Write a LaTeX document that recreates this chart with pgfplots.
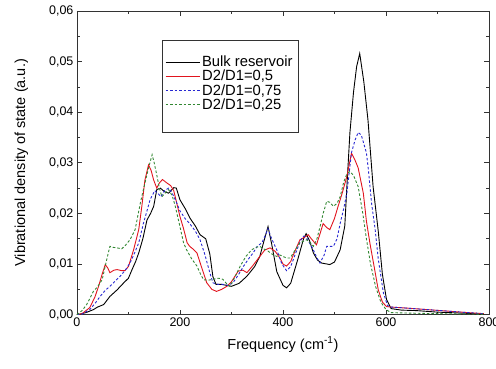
\documentclass[border=0pt]{standalone}
\usepackage{pgfplots}
\pgfplotsset{compat=1.18}
\usepackage{fontspec}
\setmainfont{Liberation Sans}
\definecolor{cred}{RGB}{225,20,30}
\definecolor{cblue}{RGB}{40,40,210}
\definecolor{cgreen}{RGB}{50,135,50}
\begin{document}
\begin{tikzpicture}
\begin{axis}[
  scale only axis,
  width=412.5pt, height=304pt,
  xmin=0, xmax=800, ymin=0, ymax=0.06,
  xtick={0,200,400,600,800},
  ytick={0,0.01,0.02,0.03,0.04,0.05,0.06},
  minor x tick num=1, minor y tick num=1,
  tick align=inside,
  major tick length=5pt, minor tick length=3pt,
  axis line style={black!80, line width=0.8pt},
  every tick/.style={black!80, line width=0.7pt},
  scaled y ticks=false,
  /pgf/number format/assume math mode=true,
  yticklabel style={/pgf/number format/.cd, use comma, fixed, fixed zerofill, precision=2},
  xticklabel style={/pgf/number format/.cd, fixed},
  tick label style={font=\fontsize{12.5}{14}\selectfont},
  label style={font=\fontsize{14.5}{16}\selectfont},
  xlabel={Frequency (cm\textsuperscript{-1})},
  ylabel={Vibrational density of state (a.u.)},
  xlabel style={yshift=-3pt},
  ylabel style={yshift=14pt},
  legend style={at={(0.209,0.866)}, anchor=north west, draw=none, fill=none,
    font=\fontsize{14.8}{16}\selectfont, inner sep=2pt, row sep=-2pt},
  legend cell align=left,
  legend image code/.code={\draw[#1, line width=0.9pt] (0pt,0pt) -- (34pt,0pt);},
]
\draw[black!80, line width=0.8pt] (axis description cs:0.2085,0.9046) rectangle (axis description cs:0.538,0.599);
\addplot[black, line width=0.9pt] coordinates {
(0,0) (10,0.0002) (20,0.0005) (32,0.0010) (40,0.0015) (52,0.0020) (64,0.0036) (78,0.0049) (91,0.0063)
(100,0.0072) (107,0.0089) (114,0.0105) (120,0.0122) (128,0.0150) (136,0.0187) (143,0.0200) (149,0.0214) (155,0.0247)
(162,0.0250) (170,0.0243) (178,0.0240) (188,0.0251) (193,0.0250) (200,0.0227) (210,0.0210)
(220,0.0190) (230,0.0175) (239,0.0158) (250,0.0150) (258,0.0120) (264,0.0075) (270,0.0060)
(280,0.0060) (290,0.0058) (300,0.0056) (315,0.0062) (330,0.0076) (345,0.0095) (355,0.0115)
(363,0.0145) (371,0.0174) (378,0.0140) (388,0.0085) (400,0.0058) (407,0.0053) (415,0.0062)
(429,0.0110) (440,0.0150) (445,0.0160) (452,0.0145) (459,0.0122) (467,0.0108) (475,0.0102)
(491,0.0099) (500,0.0104) (511,0.0128) (520,0.0175) (525,0.0270) (530,0.0360) (537,0.0440)
(543,0.0490) (549,0.0516) (557,0.0460) (565,0.0385) (575,0.0253) (585,0.0165) (593,0.0080)
(601,0.0030) (610,0.0012) (630,0.0009) (660,0.0008) (700,0.0005) (750,0.0003) (790,0.0001)
};
\addlegendentry{Bulk reservoir}
\addplot[cred, line width=0.9pt] coordinates {
(0,0) (10,0.0002) (25,0.0014) (35,0.0035) (42,0.0056) (49,0.0080) (55,0.0099) (60,0.0092) (64,0.0083)
(72,0.0088) (78,0.0089) (87,0.0087) (93,0.0087) (100,0.0095) (110,0.0128) (120,0.0168) (126,0.0214)
(132,0.0266) (139,0.0296) (144,0.0285) (149,0.0266) (155,0.0250) (160,0.0260) (166,0.0267)
(175,0.0260) (182,0.0255) (188,0.0245) (200,0.0194) (207,0.0170) (214,0.0142) (219,0.0135)
(225,0.0130) (233,0.0122) (240,0.0100) (252,0.0063) (262,0.0050) (271,0.0046) (281,0.0050)
(291,0.0056) (300,0.0065) (313,0.0086) (322,0.0088) (330,0.0083) (340,0.0095) (355,0.0115)
(365,0.0128) (375,0.0132) (385,0.0125) (394,0.0112) (400,0.0100) (407,0.0096) (415,0.0105)
(420,0.0118) (433,0.0148) (445,0.0155) (449,0.0158) (455,0.0150) (465,0.0138) (472,0.0160)
(478,0.0180) (485,0.0172) (491,0.0168) (500,0.0190) (507,0.0214) (515,0.0240) (524,0.0273)
(533,0.0319) (540,0.0305) (546,0.0290) (556,0.0240) (562,0.0185) (569,0.0140) (577,0.0095)
(585,0.0049) (593,0.0025) (601,0.0016) (610,0.0015) (640,0.0013) (680,0.0010) (720,0.0007)
(760,0.0004) (790,0.0002)
};
\addlegendentry{D2/D1=0,5}
\addplot[cblue, line width=0.9pt, dash pattern=on 2.5pt off 2pt] coordinates {
(0,0) (10,0.0001) (25,0.0010) (35,0.0022) (45,0.0036) (55,0.0048) (64,0.0056) (74,0.0066) (84,0.0076)
(94,0.0088) (103,0.0102) (112,0.0122) (120,0.0142) (129,0.0180) (136,0.0205) (142,0.0227)
(151,0.0245) (157,0.0240) (163,0.0233) (170,0.0245) (178,0.0250) (185,0.0240) (192,0.0225)
(200,0.0205) (210,0.0190) (219,0.0180) (230,0.0165) (239,0.0148) (248,0.0120) (258,0.0083)
(264,0.0063) (273,0.0060) (283,0.0060) (293,0.0058) (303,0.0063) (313,0.0078) (323,0.0095)
(333,0.0110) (342,0.0122) (350,0.0135) (359,0.0142) (365,0.0155) (371,0.0170) (378,0.0150)
(388,0.0128) (398,0.0100) (407,0.0087) (415,0.0095) (427,0.0128) (435,0.0148) (440,0.0155)
(446,0.0152) (459,0.0128) (466,0.0112) (472,0.0102) (480,0.0118) (485,0.0135) (498,0.0135)
(505,0.0150) (511,0.0180) (518,0.0210) (524,0.0240) (533,0.0320) (540,0.0345) (546,0.0360)
(552,0.0355) (562,0.0320) (566,0.0285) (572,0.0220) (579,0.0168) (585,0.0110) (595,0.0043)
(603,0.0018) (610,0.0015) (640,0.0013) (680,0.0010) (720,0.0007) (760,0.0004) (790,0.0002)
};
\addlegendentry{D2/D1=0,75}
\addplot[cgreen, line width=0.9pt, dash pattern=on 2.5pt off 2pt] coordinates {
(0,0) (10,0.0008) (19,0.0020) (32,0.0046) (40,0.0055) (49,0.0069) (57,0.0105) (64,0.0135) (70,0.0133)
(78,0.0132) (87,0.0130) (95,0.0138) (103,0.0148) (113,0.0168) (118,0.0194) (123,0.0220)
(129,0.0247) (139,0.0290) (146,0.0316) (150,0.0300) (155,0.0276) (160,0.0250) (165,0.0233)
(171,0.0240) (178,0.0247) (185,0.0235) (191,0.0214) (200,0.0174) (207,0.0142) (213,0.0128)
(223,0.0110) (233,0.0096) (240,0.0080) (246,0.0069) (255,0.0068) (264,0.0070) (275,0.0072)
(283,0.0070) (290,0.0062) (297,0.0056) (307,0.0075) (317,0.0096) (328,0.0115) (339,0.0128)
(348,0.0133) (355,0.0135) (362,0.0130) (368,0.0128) (378,0.0120) (388,0.0115) (394,0.0118)
(400,0.0115) (407,0.0112) (414,0.0112) (425,0.0130) (433,0.0142) (446,0.0148) (453,0.0142)
(459,0.0135) (466,0.0150) (472,0.0174) (478,0.0200) (485,0.0224) (491,0.0222) (498,0.0214)
(505,0.0220) (511,0.0233) (518,0.0262) (524,0.0278) (530,0.0283) (537,0.0275) (546,0.0253)
(555,0.0200) (562,0.0150) (570,0.0100) (580,0.0055) (590,0.0025) (600,0.0010) (610,0.0004)
(650,0.0003) (700,0.0002) (790,0.0001)
};
\addlegendentry{D2/D1=0,25}
\end{axis}
\pgfresetboundingbox
\path ([shift={(-77pt,-54pt)}]current axis.south west) rectangle ([shift={(7pt,11pt)}]current axis.north east);
\end{tikzpicture}
\end{document}
